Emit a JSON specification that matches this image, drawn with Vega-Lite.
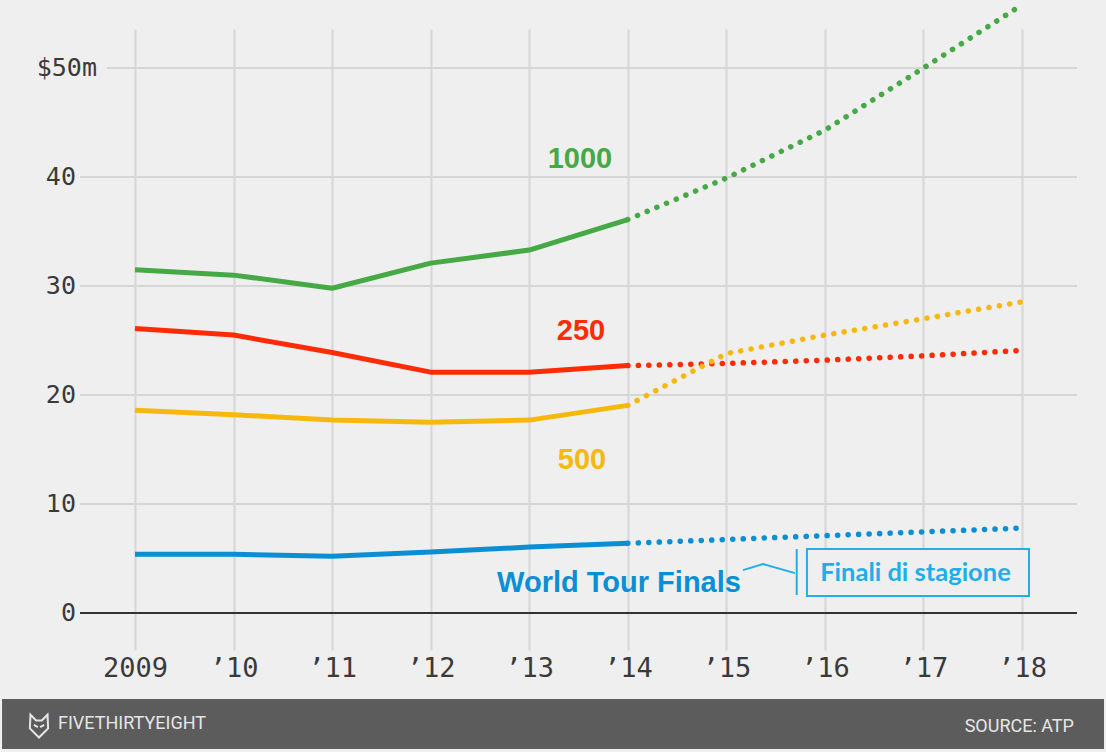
{
  "$schema": "https://vega.github.io/schema/vega-lite/v6.json",
  "width": 997,
  "height": 621,
  "autosize": {"type": "none"},
  "padding": {"left": 80, "top": 29, "right": 29, "bottom": 102},
  "background": "#efefef",
  "config": {"view": {"stroke": null}},
  "data": {
    "values": [
      {"series": "1000", "year": 2009, "value": 31.5, "type": "actual"},
      {"series": "1000", "year": 2010, "value": 31.0, "type": "actual"},
      {"series": "1000", "year": 2011, "value": 29.8, "type": "actual"},
      {"series": "1000", "year": 2012, "value": 32.1, "type": "actual"},
      {"series": "1000", "year": 2013, "value": 33.3, "type": "actual"},
      {"series": "1000", "year": 2014, "value": 36.1, "type": "actual"},
      {"series": "1000", "year": 2014, "value": 36.1, "type": "projected"},
      {"series": "1000", "year": 2015, "value": 39.9, "type": "projected"},
      {"series": "1000", "year": 2016, "value": 44.3, "type": "projected"},
      {"series": "1000", "year": 2017, "value": 50.0, "type": "projected"},
      {"series": "1000", "year": 2018, "value": 55.8, "type": "projected"},
      {"series": "250", "year": 2009, "value": 26.1, "type": "actual"},
      {"series": "250", "year": 2010, "value": 25.5, "type": "actual"},
      {"series": "250", "year": 2011, "value": 23.9, "type": "actual"},
      {"series": "250", "year": 2012, "value": 22.1, "type": "actual"},
      {"series": "250", "year": 2013, "value": 22.1, "type": "actual"},
      {"series": "250", "year": 2014, "value": 22.7, "type": "actual"},
      {"series": "250", "year": 2014, "value": 22.7, "type": "projected"},
      {"series": "250", "year": 2015, "value": 22.9, "type": "projected"},
      {"series": "250", "year": 2016, "value": 23.2, "type": "projected"},
      {"series": "250", "year": 2017, "value": 23.6, "type": "projected"},
      {"series": "250", "year": 2018, "value": 24.1, "type": "projected"},
      {"series": "500", "year": 2009, "value": 18.6, "type": "actual"},
      {"series": "500", "year": 2010, "value": 18.2, "type": "actual"},
      {"series": "500", "year": 2011, "value": 17.7, "type": "actual"},
      {"series": "500", "year": 2012, "value": 17.5, "type": "actual"},
      {"series": "500", "year": 2013, "value": 17.7, "type": "actual"},
      {"series": "500", "year": 2014, "value": 19.05, "type": "actual"},
      {"series": "500", "year": 2014, "value": 19.05, "type": "projected"},
      {"series": "500", "year": 2015, "value": 23.8, "type": "projected"},
      {"series": "500", "year": 2016, "value": 25.5, "type": "projected"},
      {"series": "500", "year": 2017, "value": 27.0, "type": "projected"},
      {"series": "500", "year": 2018, "value": 28.55, "type": "projected"},
      {"series": "World Tour Finals", "year": 2009, "value": 5.4, "type": "actual"},
      {"series": "World Tour Finals", "year": 2010, "value": 5.4, "type": "actual"},
      {"series": "World Tour Finals", "year": 2011, "value": 5.2, "type": "actual"},
      {"series": "World Tour Finals", "year": 2012, "value": 5.6, "type": "actual"},
      {"series": "World Tour Finals", "year": 2013, "value": 6.05, "type": "actual"},
      {"series": "World Tour Finals", "year": 2014, "value": 6.4, "type": "actual"},
      {"series": "World Tour Finals", "year": 2014, "value": 6.4, "type": "projected"},
      {"series": "World Tour Finals", "year": 2015, "value": 6.75, "type": "projected"},
      {"series": "World Tour Finals", "year": 2016, "value": 7.1, "type": "projected"},
      {"series": "World Tour Finals", "year": 2017, "value": 7.45, "type": "projected"},
      {"series": "World Tour Finals", "year": 2018, "value": 7.8, "type": "projected"}
    ]
  },
  "layer": [
    {
      "data": {"values": [{"v": 10}, {"v": 20}, {"v": 30}, {"v": 40}]},
      "mark": {"type": "rule", "color": "#d6d6d6", "strokeWidth": 2},
      "encoding": {
        "y": {"field": "v", "type": "quantitative", "axis": null, "scale": {"domain": [-3.39, 53.58], "nice": false, "zero": false}},
        "x": {
          "datum": 2008.442, "type": "quantitative",
          "scale": {"domain": [2008.442, 2018.558], "nice": false, "zero": false},
          "axis": {
            "values": [2009, 2010, 2011, 2012, 2013, 2014, 2015, 2016, 2017, 2018],
            "labelExpr": "datum.value == 2009 ? '2009' : '\u2019' + (datum.value - 2000)",
            "title": null, "domain": false, "ticks": false, "grid": true,
            "gridColor": "#d6d6d6", "gridWidth": 2,
            "labelFont": "DejaVu Sans Mono", "labelFontSize": 27, "labelColor": "#3a3a3a",
            "labelPadding": 5, "labelFlush": false, "labelOverlap": false
          }
        },
        "x2": {"datum": 2018.558}
      }
    },
    {
      "data": {"values": [{"v": 50}]},
      "mark": {"type": "rule", "color": "#d6d6d6", "strokeWidth": 2},
      "encoding": {
        "y": {"field": "v", "type": "quantitative", "axis": null},
        "x": {"datum": 2008.716, "type": "quantitative", "title": null},
        "x2": {"datum": 2018.558}
      }
    },
    {
      "transform": [{"filter": "datum.type == 'actual'"}],
      "mark": {"type": "line", "strokeWidth": 5, "strokeJoin": "round"},
      "encoding": {
        "x": {"field": "year", "type": "quantitative", "title": null},
        "y": {"field": "value", "type": "quantitative", "axis": null},
        "color": {
          "field": "series", "type": "nominal", "legend": null,
          "scale": {"domain": ["1000", "250", "500", "World Tour Finals"], "range": ["#45a945", "#ff2b06", "#f6b80c", "#0b8fd4"]}
        },
        "detail": {"field": "type"}
      }
    },
    {
      "transform": [{"filter": "datum.type == 'projected'"}],
      "mark": {"type": "line", "strokeWidth": 5.5, "strokeCap": "round", "strokeDash": [0.1, 10.4]},
      "encoding": {
        "x": {"field": "year", "type": "quantitative", "title": null},
        "y": {"field": "value", "type": "quantitative", "axis": null},
        "color": {"field": "series", "type": "nominal", "legend": null}
      }
    },
    {
      "data": {"values": [{"v": 0}]},
      "mark": {"type": "rule", "color": "#333333", "strokeWidth": 2},
      "encoding": {
        "y": {"field": "v", "type": "quantitative", "axis": null},
        "x": {"datum": 2008.442, "type": "quantitative", "title": null},
        "x2": {"datum": 2018.558}
      }
    },
    {
      "data": {"values": [
        {"series": "1000", "label": "1000", "year": 2013.515, "value": 41.67},
        {"series": "250", "label": "250", "year": 2013.525, "value": 25.87},
        {"series": "500", "label": "500", "year": 2013.535, "value": 14.0},
        {"series": "World Tour Finals", "label": "World Tour Finals", "year": 2013.911, "value": 2.75}
      ]},
      "mark": {"type": "text", "font": "Liberation Sans", "fontWeight": "bold", "fontSize": 29, "align": "center", "baseline": "middle"},
      "encoding": {
        "x": {"field": "year", "type": "quantitative", "title": null},
        "y": {"field": "value", "type": "quantitative", "axis": null},
        "text": {"field": "label"},
        "color": {"field": "series", "type": "nominal", "legend": null}
      }
    },
    {
      "data": {"values": [{"v": 0, "label": "0"}, {"v": 10, "label": "10"}, {"v": 20, "label": "20"}, {"v": 30, "label": "30"}, {"v": 40, "label": "40"}]},
      "mark": {"type": "text", "font": "DejaVu Sans Mono", "fontSize": 25, "color": "#3a3a3a", "align": "right", "baseline": "middle"},
      "encoding": {
        "y": {"field": "v", "type": "quantitative", "axis": null},
        "x": {"datum": 2008.401, "type": "quantitative", "title": null},
        "text": {"field": "label"}
      }
    },
    {
      "data": {"values": [{"v": 50, "label": "$50m"}]},
      "mark": {"type": "text", "font": "DejaVu Sans Mono", "fontSize": 25, "color": "#3a3a3a", "align": "right", "baseline": "middle"},
      "encoding": {
        "y": {"field": "v", "type": "quantitative", "axis": null},
        "x": {"datum": 2008.614, "type": "quantitative", "title": null},
        "text": {"field": "label"}
      }
    },
    {
      "data": {"values": [{"note": "Finali di stagione"}]},
      "mark": {"type": "rect", "fill": "#efefef", "stroke": "#22aee8", "strokeWidth": 2},
      "encoding": {
        "x": {"datum": 2015.818, "type": "quantitative", "title": null},
        "x2": {"datum": 2018.071},
        "y": {"datum": 5.87, "type": "quantitative", "axis": null},
        "y2": {"datum": 1.56}
      }
    },
    {
      "data": {"values": [{"note": "Finali di stagione"}]},
      "mark": {"type": "rule", "color": "#22aee8", "strokeWidth": 2},
      "encoding": {
        "x": {"datum": 2015.714, "type": "quantitative", "title": null},
        "y": {"datum": 5.87, "type": "quantitative", "axis": null},
        "y2": {"datum": 1.65}
      }
    },
    {
      "data": {"values": [
        {"year": 2015.169, "value": 3.945},
        {"year": 2015.372, "value": 4.495},
        {"year": 2015.696, "value": 3.67}
      ]},
      "mark": {"type": "line", "color": "#22aee8", "strokeWidth": 1.8},
      "encoding": {
        "x": {"field": "year", "type": "quantitative", "title": null},
        "y": {"field": "value", "type": "quantitative", "axis": null}
      }
    },
    {
      "data": {"values": [{"note": "Finali di stagione"}]},
      "mark": {"type": "text", "font": "Lato", "fontWeight": "bold", "fontSize": 25.5, "color": "#1eaeea", "align": "center", "baseline": "middle"},
      "encoding": {
        "x": {"datum": 2016.919, "type": "quantitative", "title": null},
        "y": {"datum": 3.7, "type": "quantitative", "axis": null},
        "text": {"field": "note"}
      }
    },
    {
      "data": {"values": [{"brand": "FIVETHIRTYEIGHT", "source": "SOURCE: ATP"}]},
      "mark": {"type": "rect", "fill": "#5c5c5c"},
      "encoding": {
        "x": {"datum": 2007.651, "type": "quantitative", "title": null},
        "x2": {"datum": 2018.832},
        "y": {"datum": -7.89, "type": "quantitative", "axis": null},
        "y2": {"datum": -12.48}
      }
    },
    {
      "data": {"values": [{"brand": "FIVETHIRTYEIGHT"}]},
      "mark": {"type": "text", "font": "Roboto", "fontSize": 18, "color": "#e6e6e6", "align": "left", "baseline": "middle"},
      "encoding": {
        "x": {"datum": 2008.219, "type": "quantitative", "title": null},
        "y": {"datum": -10.22, "type": "quantitative", "axis": null},
        "text": {"field": "brand"}
      }
    },
    {
      "data": {"values": [{"source": "SOURCE: ATP"}]},
      "mark": {"type": "text", "font": "Roboto", "fontSize": 18, "color": "#e6e6e6", "align": "right", "baseline": "middle"},
      "encoding": {
        "x": {"datum": 2018.527, "type": "quantitative", "title": null},
        "y": {"datum": -10.46, "type": "quantitative", "axis": null},
        "text": {"field": "source"}
      }
    },
    {
      "data": {"values": [{"brand": "logo"}]},
      "mark": {"type": "point", "shape": "M-0.75,-1 L-0.25,-0.5 L0.25,-0.5 L0.75,-1 L0.8,0.2 L0,1 L-0.8,0.2 Z M-0.45,-0.1 L-0.1,0.1 M0.45,-0.1 L0.1,0.1", "size": 520, "filled": false, "stroke": "#e6e6e6", "strokeWidth": 2, "opacity": 1},
      "encoding": {
        "x": {"datum": 2008.026, "type": "quantitative", "title": null},
        "y": {"datum": -10.37, "type": "quantitative", "axis": null}
      }
    }
  ]
}
